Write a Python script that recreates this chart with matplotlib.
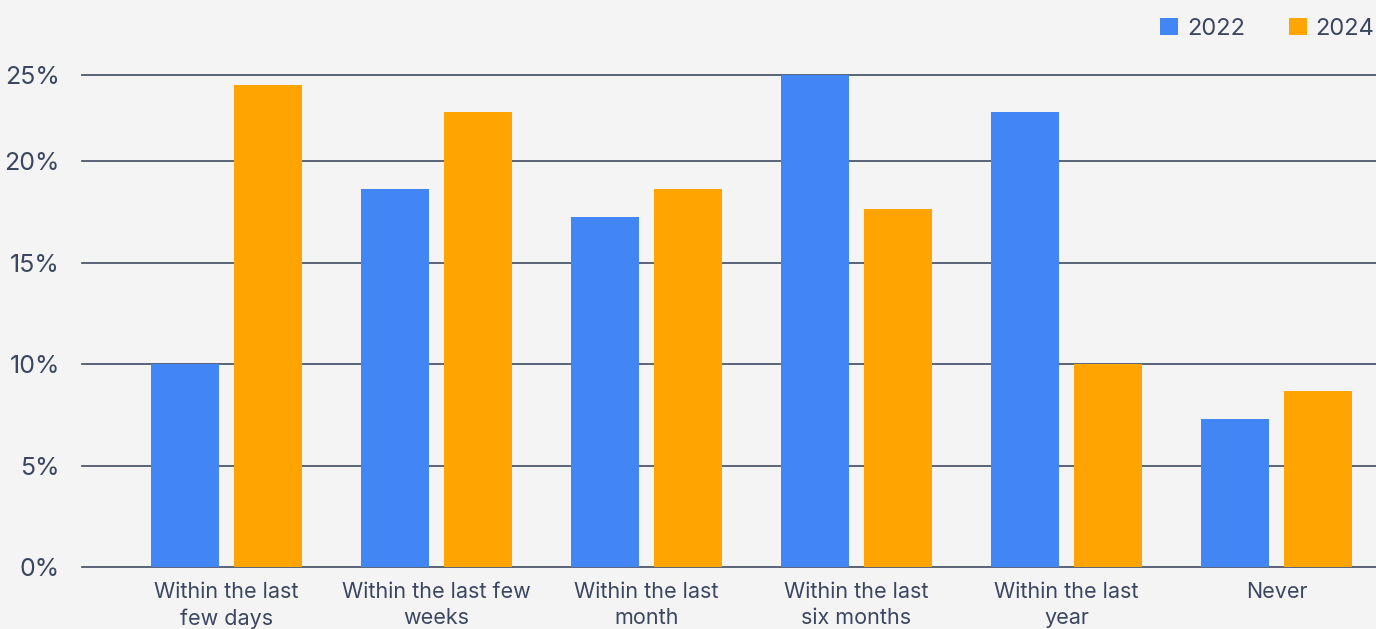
import matplotlib
matplotlib.use("Agg")
import matplotlib.pyplot as plt
import numpy as np

categories = ["Within the last\nfew days", "Within the last few\nweeks", "Within the last\nmonth",
              "Within the last\nsix months", "Within the last\nyear", "Never"]
series_names = ["2022", "2024"]
values_2022 = [10.0, 18.6, 17.25, 24.24, 22.4, 7.27]
values_2024 = [23.75, 22.4, 18.6, 17.65, 10.0, 8.65]
tick_labels = ["0%", "5%", "10%", "15%", "20%", "25%"]

BLUE = "#4286F5"
ORANGE = "#FFA400"
BG = "#F4F4F4"
TEXT = "#3B4760"
GRID = "#4E586C"

plt.rcParams["font.family"] = ["Inter", "DejaVu Sans"]

fig = plt.figure(figsize=(13.76, 6.29), dpi=100, facecolor=BG)
ax = fig.add_axes([82/1376, 1 - 567/629, 1 - 82/1376, (567 - 75)/629])
ax.set_facecolor(BG)

x = np.arange(len(categories))
w = 0.324
off = 0.1976
ax.bar(x - off, values_2022, width=w, color=BLUE, label=series_names[0], zorder=3)
ax.bar(x + off, values_2024, width=w, color=ORANGE, label=series_names[1], zorder=3)

ymax = max(values_2022 + values_2024)
ticks = [0, 5, 10, 15, 20, ymax]
ax.set_ylim(0, ymax)
ax.set_yticks(ticks)
ax.set_yticklabels(tick_labels)
ax.set_xlim(-0.688, 5.474)
ax.set_xticks(x)
ax.set_xticklabels(categories)

for t in ticks:
    ax.axhline(t, color=GRID, linewidth=1.3, zorder=2, clip_on=False)

for s in ax.spines.values():
    s.set_visible(False)
ax.tick_params(axis="both", length=0)
ax.tick_params(axis="y", labelsize=18, labelcolor=TEXT, pad=16)
ax.tick_params(axis="x", labelsize=15.5, labelcolor=TEXT, pad=11)
for lbl in ax.get_xticklabels():
    lbl.set_linespacing(1.38)

leg = fig.legend(loc="center right", bbox_to_anchor=(0.999, 1 - 29/629), ncol=2,
                 frameon=False, fontsize=17, handlelength=0.76, handleheight=0.76,
                 handletextpad=0.38, columnspacing=1.85, borderpad=0, borderaxespad=0)
for t in leg.get_texts():
    t.set_color(TEXT)

fig.savefig("out.png", dpi=100, facecolor=BG)
